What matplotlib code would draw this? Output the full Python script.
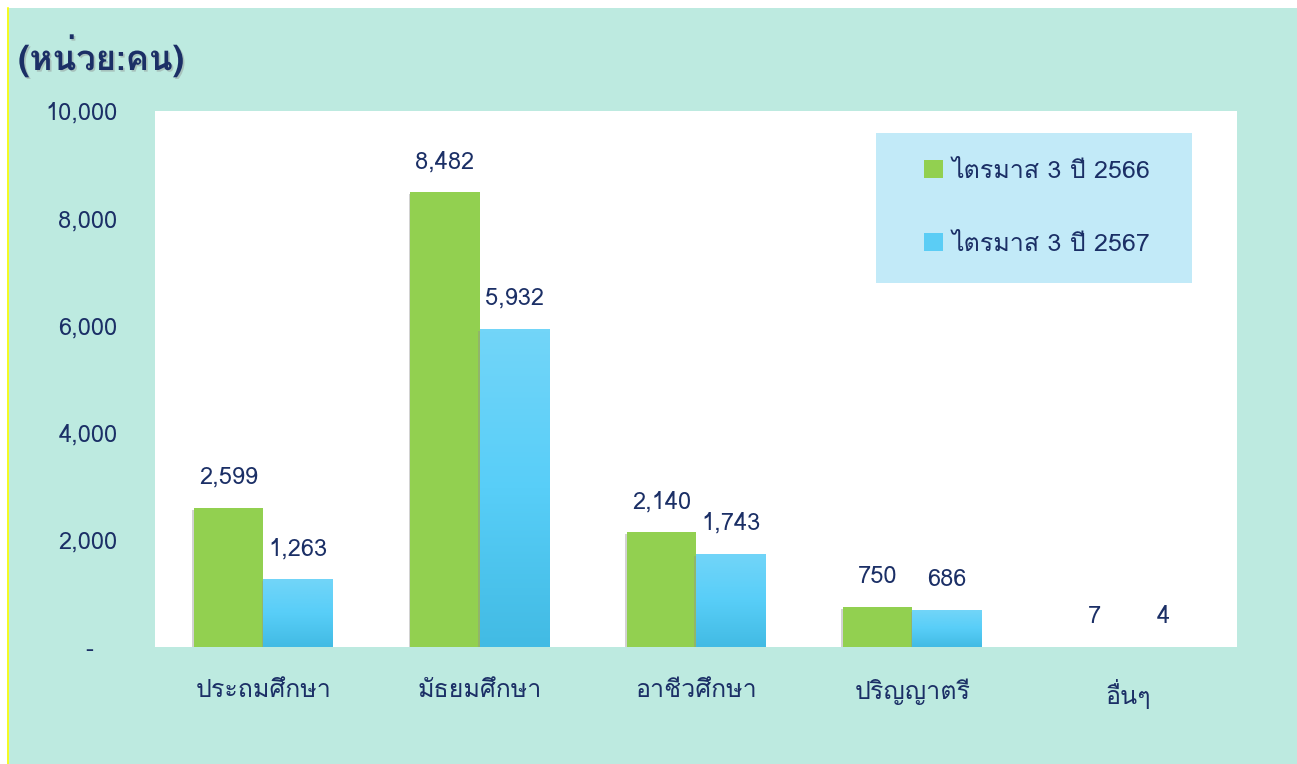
import numpy as np
import matplotlib
matplotlib.use('Agg')
import matplotlib.pyplot as plt
import matplotlib.patheffects as pe
from matplotlib.patches import Rectangle, Patch
from matplotlib.colors import LinearSegmentedColormap

categories = ['ประถมศึกษา', 'มัธยมศึกษา', 'อาชีวศึกษา', 'ปริญญาตรี', 'อื่นๆ']
q3_2566 = [2599, 8482, 2140, 750, 7]
q3_2567 = [1263, 5932, 1743, 686, 4]
series_names = ['ไตรมาส 3 ปี 2566', 'ไตรมาส 3 ปี 2567']
yticks = [0, 2000, 4000, 6000, 8000, 10000]
ytick_labels = ['-   ', '2,000', '4,000', '6,000', '8,000', '10,000']

plt.rcParams['font.family'] = ['Loma', 'Noto Sans Thai Looped', 'DejaVu Sans']
navy = '#1B2F66'
green = '#92D050'
blue_cmap = LinearSegmentedColormap.from_list('b', ['#42BBE4', '#58CEF8', '#72D5F8'])

W, H = 1297, 764
fig = plt.figure(figsize=(W / 100, H / 100), dpi=100)
fig.patch.set_facecolor('white')
fig.add_artist(Rectangle((7 / W, 0), 1 - 7 / W, 1 - 8 / H, transform=fig.transFigure,
                         facecolor='#BDEAE0', edgecolor='none', zorder=-10))
fig.add_artist(plt.Line2D([7.5 / W, 7.5 / W], [0, 1 - 8 / H], transform=fig.transFigure,
                          color='#FFFF00', lw=1.2, zorder=-9))

ax = fig.add_axes([155 / W, 1 - 647 / H, (1237 - 155) / W, (647 - 111) / H])
ax.set_facecolor('white')
for s in ax.spines.values():
    s.set_visible(False)

x = np.arange(len(categories))
w = 0.32
shadow = [pe.SimplePatchShadow(offset=(-1.2, -1.5), shadow_rgbFace='#909090', alpha=0.4), pe.Normal()]
b1 = ax.bar(x - w / 2, q3_2566, w, color=green, zorder=3, path_effects=shadow)
b2 = ax.bar(x + w / 2, q3_2567, w, color='#58CEF8', zorder=3, path_effects=shadow)

# vertical gradient on the 2567 bars
grad = np.linspace(0, 1, 100).reshape(-1, 1)
for bar in b2:
    x0, h = bar.get_x(), bar.get_height()
    im = ax.imshow(grad, cmap=blue_cmap, extent=(x0, x0 + bar.get_width(), 0, h),
                   origin='lower', aspect='auto', zorder=4, interpolation='bilinear')
    im.set_clip_path(bar)

for bars in (b1, b2):
    for bar in bars:
        ax.annotate(f'{int(bar.get_height()):,}', (bar.get_x() + bar.get_width() / 2, bar.get_height()),
                    xytext=(0, 22), textcoords='offset points', ha='center', va='center',
                    fontsize=17, color=navy)

ax.set_xlim(-0.5, len(categories) - 0.5)
ax.set_ylim(0, 10000)
ax.set_yticks(yticks)
ax.set_yticklabels(ytick_labels, fontsize=17, color=navy)
ax.set_xticks(x)
ax.set_xticklabels(categories, fontsize=18, color=navy)
ax.tick_params(axis='y', length=0, pad=27)
ax.tick_params(axis='x', length=0, pad=23)

# legend box
fig.add_artist(Rectangle((876 / W, 1 - 283 / H), 316 / W, 150 / H, transform=fig.transFigure,
                         facecolor='#C2EAF8', edgecolor='none', zorder=5))
handles = [Patch(facecolor=green), Patch(facecolor='#5BCDF5')]
leg = fig.legend(handles, series_names, loc='center', bbox_to_anchor=((876 + 161) / W, 1 - 208 / H),
                 frameon=False, fontsize=18, labelcolor=navy, handlelength=0.75, handleheight=0.75,
                 handletextpad=0.35, labelspacing=2.0)
leg.set_zorder(6)

fig.text(18 / W, 1 - 55 / H, '(หน่วย:คน)', fontsize=25, fontweight='bold', color=navy,
         ha='left', va='center',
         path_effects=[pe.withSimplePatchShadow(offset=(1.2, -1.2), shadow_rgbFace='#888888', alpha=0.4)])

fig.savefig('out.png', dpi=100)
